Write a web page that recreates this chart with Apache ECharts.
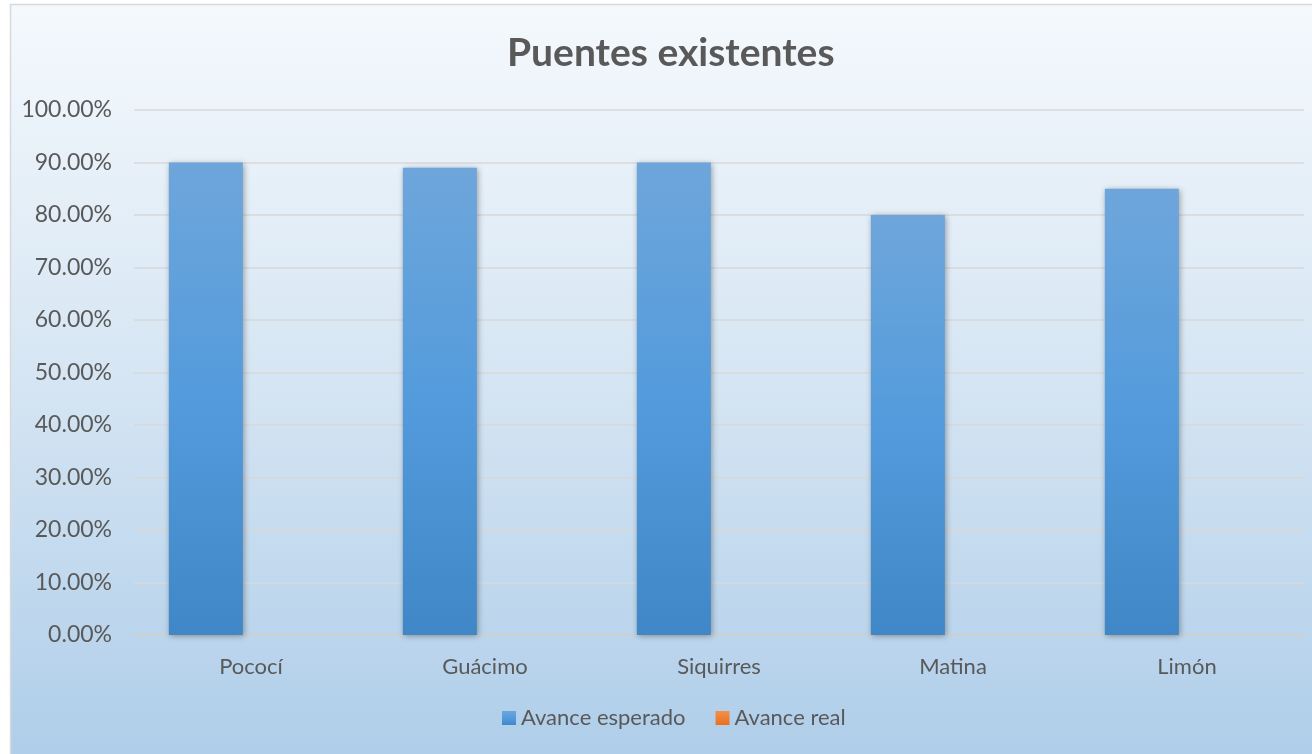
<!DOCTYPE html>
<html>
<head>
<meta charset="utf-8">
<script src="https://cdn.jsdelivr.net/npm/echarts@6/dist/echarts.min.js"></script>
<style>html,body{margin:0;padding:0;background:#fff;}#c{width:1312px;height:754px;}</style>
</head>
<body>
<div id="c"></div>
<script>
const categories = ['Pococí', 'Guácimo', 'Siquirres', 'Matina', 'Limón'];
const avanceEsperado = [90, 89, 90, 80, 85];
const avanceReal = [0, 0, 0, 0, 0];
const seriesNames = ['Avance esperado', 'Avance real'];
const titleText = 'Puentes existentes';

const chart = echarts.init(document.getElementById('c'));
const font = 'Lato, "Open Sans", sans-serif';
const txt = '#595959';
chart.setOption({
  animation: false,
  graphic: [{
    type: 'rect', z: -10, silent: true,
    shape: {x: 10.5, y: 4.5, width: 1310, height: 760},
    style: {
      fill: new echarts.graphic.LinearGradient(0, 0, 0, 1, [
        {offset: 0, color: '#f5f9fd'},
        {offset: 0.5, color: '#d5e5f3'},
        {offset: 1, color: '#aecde9'}
      ]),
      stroke: '#d9d9d9', lineWidth: 1.5
    }
  }],
  title: {
    text: titleText, left: 502, top: 29,
    textStyle: {fontFamily: font, fontSize: 39, fontWeight: 'bold', color: txt}
  },
  legend: {
    data: seriesNames, bottom: 20, left: 497,
    itemWidth: 14, itemHeight: 14, itemGap: 30, icon: 'rect',
    textStyle: {fontFamily: font, fontSize: 22, color: txt}
  },
  grid: {left: 134, right: 8, top: 110, bottom: 119, containLabel: false},
  xAxis: {
    type: 'category', data: categories,
    axisLine: {lineStyle: {color: '#cfcfcf', width: 2}},
    axisTick: {show: false},
    axisLabel: {fontFamily: font, fontSize: 22, color: txt, margin: 21}
  },
  yAxis: {
    type: 'value', min: 0, max: 100, interval: 10,
    axisLine: {show: false}, axisTick: {show: false},
    splitLine: {lineStyle: {color: '#d9d9d9', width: 1.5}},
    axisLabel: {fontFamily: font, fontSize: 23, color: txt, margin: 22,
      formatter: v => v.toFixed(2) + '%'}
  },
  series: [{
    name: seriesNames[0], type: 'bar', data: avanceEsperado,
    barWidth: 74, barGap: '22%',
    itemStyle: {
      color: new echarts.graphic.LinearGradient(0, 0, 0, 1, [
        {offset: 0, color: '#6ea6db'},
        {offset: 0.5, color: '#539bdc'},
        {offset: 1, color: '#3f87c6'}
      ]),
      shadowColor: 'rgba(0,0,0,0.35)', shadowBlur: 6, shadowOffsetX: 1, shadowOffsetY: 1
    }
  }, {
    name: seriesNames[1], type: 'bar', data: avanceReal,
    barWidth: 74,
    itemStyle: {
      color: new echarts.graphic.LinearGradient(0, 0, 0, 1, [
        {offset: 0, color: '#f4904a'},
        {offset: 1, color: '#e8711f'}
      ])
    }
  }]
});
</script>
</body>
</html>
